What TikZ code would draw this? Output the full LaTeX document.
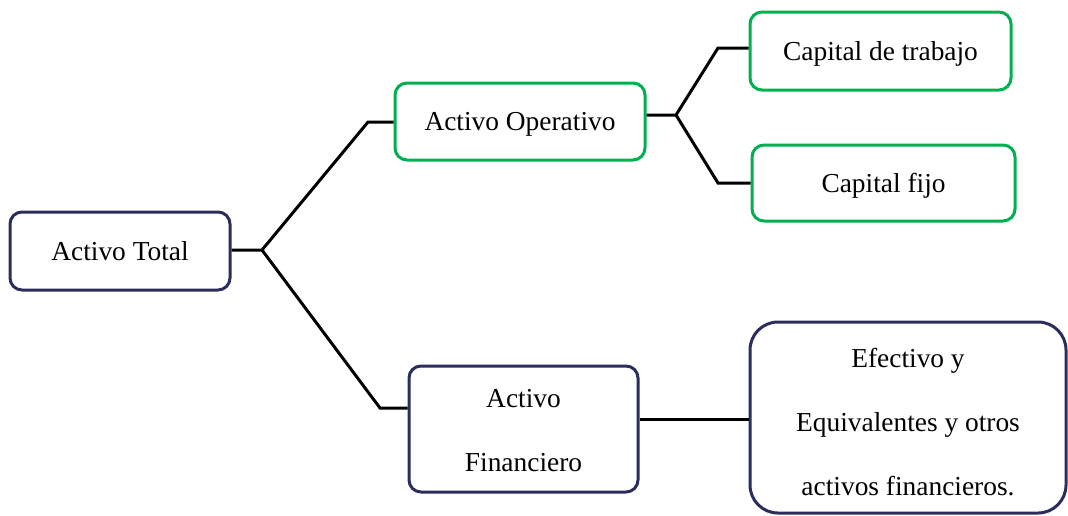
\documentclass[tikz,border=0pt]{standalone}
\usepackage{fontspec}
\setmainfont{Liberation Serif}
\usepackage{tikz}
\usetikzlibrary{positioning, calc}
\definecolor{navy}{HTML}{2B2D5C}
\definecolor{leaf}{HTML}{00B050}
\newcommand{\boxfont}{\fontsize{13.7}{32}\selectfont}
\newcommand{\padtop}[1]{\rule{0pt}{#1}}

\begin{document}
\begin{tikzpicture}[
    x=0.5pt, y=-0.5pt,
    blk/.style 2 args={draw, line width=1.5pt, rounded corners=6pt, fill=white, minimum width=#1, minimum height=#2, align=center, inner sep=2pt, font=\boxfont},
    main/.style={draw=navy},
    sub/.style={draw=leaf},
    flat/.style={text depth=0pt},
    link/.style={line width=1.5pt, color=black},
]
\useasboundingbox (0,0) rectangle (1068,515);
% boxes
\node[blk={110pt}{39pt}, main] (tot) at (120,251) {Activo Total};
\node[blk={125pt}{38.5pt}, sub, flat] (op) at (520,121.5) {Activo Operativo};
\node[blk={130.5pt}{39pt}, sub, flat] (ct) at (880.5,51) {Capital de trabajo};
\node[blk={131.5pt}{38pt}, sub, flat] (cf) at (883.5,183) {Capital fijo};
\node[blk={114.5pt}{63pt}, main] (fin) at (523.5,429) {\padtop{10.8pt}Activo\\Financiero};
\node[blk={158pt}{95.5pt}, main, rounded corners=14pt] (efe) at (908,417.5) {\padtop{14pt}Efectivo y\\Equivalentes y otros\\activos financieros.};
% joints
\coordinate (j0) at (262,250);
\coordinate (j1) at (368,122);
\coordinate (j2) at (380,408);
\coordinate (j3) at (676,115);
\coordinate (j4) at (718,48);
\coordinate (j5) at (718,183);
% connectors
\draw[link] (tot.east |- j0) -- (j0) -- (j1) -- (op.west |- j1);
\draw[link] (j0) -- (j2) -- (fin.west |- j2);
\draw[link] (op.east |- j3) -- (j3) -- (j4) -- (ct.west |- j4);
\draw[link] (j3) -- (j5) -- (cf.west |- j5);
\draw[link] ($(fin.east)+(0,-10)$) -- ($(efe.west)+(0,1.5)$);
\end{tikzpicture}
\end{document}
